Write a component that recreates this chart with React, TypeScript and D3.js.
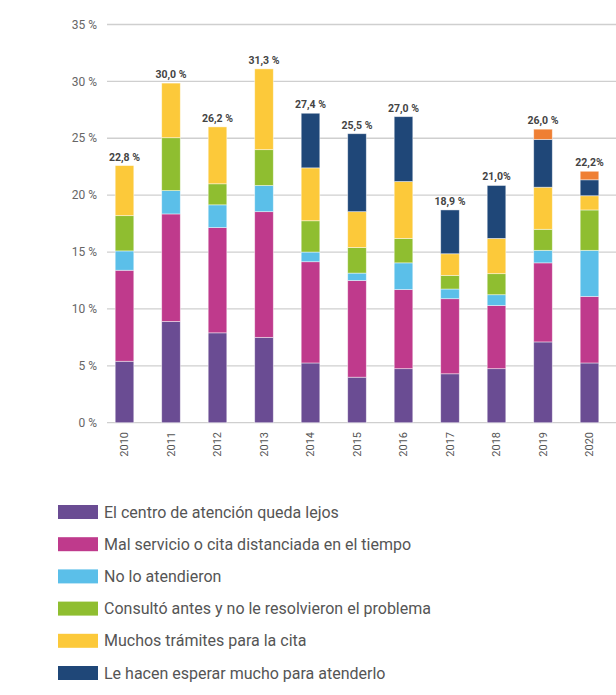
import React, { useEffect, useRef } from 'react'
import * as d3 from 'd3'

const years = ['2010', '2011', '2012', '2013', '2014', '2015', '2016', '2017', '2018', '2019', '2020']

const seriesNames = [
  'El centro de atención queda lejos',
  'Mal servicio o cita distanciada en el tiempo',
  'No lo atendieron',
  'Consultó antes y no le resolvieron el problema',
  'Muchos trámites para la cita',
  'Le hacen esperar mucho para atenderlo',
  'Otro',
]

const lejos = [5.4, 8.9, 7.9, 7.5, 5.25, 4.0, 4.75, 4.3, 4.75, 7.1, 5.25]
const malServicio = [8.0, 9.45, 9.25, 11.05, 8.9, 8.5, 6.95, 6.6, 5.55, 6.95, 5.85]
const noAtendieron = [1.7, 2.05, 2.0, 2.3, 0.85, 0.65, 2.35, 0.85, 0.95, 1.1, 4.05]
const consulto = [3.1, 4.65, 1.85, 3.15, 2.75, 2.25, 2.15, 1.2, 1.85, 1.85, 3.55]
const tramites = [4.4, 4.8, 5.0, 7.1, 4.65, 3.15, 5.0, 1.9, 3.1, 3.7, 1.25]
const esperar = [0, 0, 0, 0, 4.8, 6.85, 5.7, 3.85, 4.65, 4.2, 1.4]
const otro = [0, 0, 0, 0, 0, 0, 0, 0, 0, 0.9, 0.75]

const totalLabels = ['22,8 %', '30,0 %', '26,2 %', '31,3 %', '27,4 %', '25,5 %', '27,0 %', '18,9 %', '21,0%', '26,0 %', '22,2%']

const yTicks = [0, 5, 10, 15, 20, 25, 30, 35]

const colors = ['#6a4c93', '#bf3a8c', '#5bbfe9', '#8fbe30', '#fcc93a', '#1f4778', '#ef7f33']
const legendCount = 6

const width = 616
const height = 695
const font = 'Roboto, sans-serif'

const App: React.FC = () => {
  const svgRef = useRef<SVGSVGElement | null>(null)

  useEffect(() => {
    if (!svgRef.current) return
    const svg = d3.select(svgRef.current)
    svg.selectAll('*').remove()

    const allSeries = [lejos, malServicio, noAtendieron, consulto, tramites, esperar, otro]
    const rows = years.map((y, i) => {
      const r: any = { year: y }
      allSeries.forEach((s, k) => (r['s' + k] = s[i]))
      return r
    })
    const keys = allSeries.map((_, k) => 's' + k)
    const stacked = d3.stack().keys(keys)(rows)

    const x = d3
      .scaleBand()
      .domain(years)
      .range([101.25, 612.75])
      .paddingInner(0.6)
      .paddingOuter(0.3)

    const y = d3.scaleLinear().domain([0, 35]).range([422.7, 24.5])

    // gridlines + tick labels
    const grid = svg.append('g')
    grid
      .selectAll('line')
      .data(yTicks)
      .join('line')
      .attr('x1', 107)
      .attr('x2', width)
      .attr('y1', (d) => y(d))
      .attr('y2', (d) => y(d))
      .attr('stroke', '#cfcfcf')
      .attr('stroke-width', 1.3)
    grid
      .selectAll('text')
      .data(yTicks)
      .join('text')
      .attr('x', 97)
      .attr('y', (d) => y(d))
      .attr('dy', '0.35em')
      .attr('text-anchor', 'end')
      .attr('font-family', font)
      .attr('font-size', 12)
      .attr('fill', '#666')
      .text((d) => d + ' %')

    // bars
    svg
      .append('g')
      .selectAll('g')
      .data(stacked)
      .join('g')
      .attr('fill', (_, k) => colors[k])
      .selectAll('rect')
      .data((d) => d.filter((p) => p[1] - p[0] > 0))
      .join('rect')
      .attr('x', (d: any) => x(d.data.year)!)
      .attr('y', (d) => y(d[1]))
      .attr('width', x.bandwidth())
      .attr('height', (d) => y(d[0]) - y(d[1]))
      .attr('stroke', 'rgba(255,255,255,0.55)')
      .attr('stroke-width', 0.8)

    // total labels
    svg
      .append('g')
      .selectAll('text')
      .data(years)
      .join('text')
      .attr('x', (d) => x(d)! + x.bandwidth() / 2)
      .attr('y', (_, i) => y(d3.sum(allSeries, (s) => s[i])) - 5)
      .attr('text-anchor', 'middle')
      .attr('font-family', font)
      .attr('font-size', 10.5)
      .attr('font-weight', 'bold')
      .attr('fill', '#444')
      .text((_, i) => totalLabels[i])

    // year labels
    svg
      .append('g')
      .selectAll('text')
      .data(years)
      .join('text')
      .attr('transform', (d) => `translate(${x(d)! + x.bandwidth() / 2},432) rotate(-90)`)
      .attr('dy', '0.35em')
      .attr('text-anchor', 'end')
      .attr('font-family', font)
      .attr('font-size', 11)
      .attr('fill', '#555')
      .text((d) => d)

    // legend
    const legend = svg
      .append('g')
      .selectAll('g')
      .data(seriesNames.slice(0, legendCount))
      .join('g')
      .attr('transform', (_, i) => `translate(58,${512 + i * 32.2})`)
    legend
      .append('rect')
      .attr('x', 0)
      .attr('y', -7)
      .attr('width', 40)
      .attr('height', 14)
      .attr('fill', (_, i) => colors[i])
    legend
      .append('text')
      .attr('x', 46)
      .attr('y', 0)
      .attr('dy', '0.35em')
      .attr('font-family', font)
      .attr('font-size', 16)
      .attr('fill', '#555')
      .text((d) => d)
  }, [])

  return (
    <svg
      ref={svgRef}
      width={width}
      height={height}
      style={{ position: 'absolute', left: 0, top: 0, background: '#fff' }}
    ></svg>
  )
}

export default App
